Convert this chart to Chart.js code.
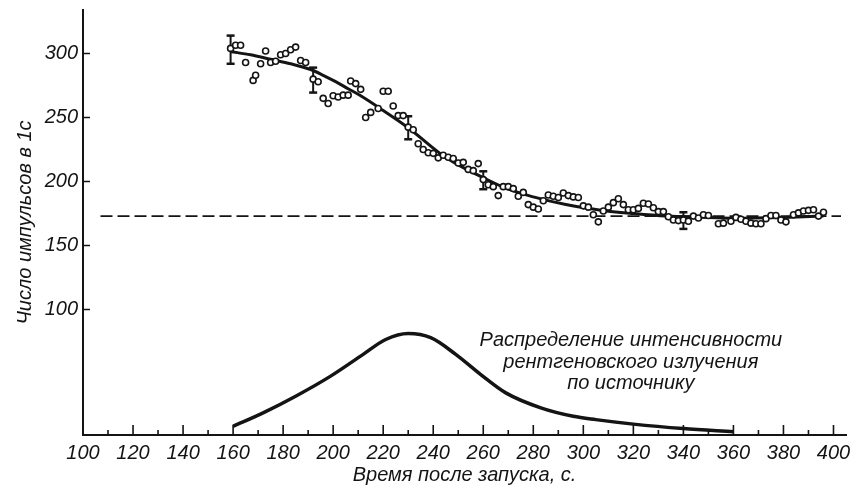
<!DOCTYPE html>
<html>
<head>
<meta charset="utf-8">
<script src="https://cdn.jsdelivr.net/npm/chart.js@4/dist/chart.umd.min.js"></script>
<style>
  html, body { margin: 0; padding: 0; background: #fff; }
  #wrap { width: 853px; height: 490px; }
</style>
</head>
<body>
<div id="wrap"><canvas id="c" width="853" height="490"></canvas></div>
<script>
// ---- Data ----
const dotTime = [159,161,163,165,168,169,171,173,175,177,179,181,183,185,187,189,192,194,196,198,200,202,204,206,207,209,211,213,215,218,220,222,224,226,228,230,232,234,236,238,240,242,244,246,248,250,252,254,256,258,260,262,264,266,268,270,272,274,276,278,280,282,284,286,288,290,292,294,296,298,300,302,304,306,308,310,312,314,316,318,320,322,324,326,328,330,332,334,336,338,340,342,344,346,348,350,354,356,359,361,363,365,367,369,371,373,375,377,379,381,384,386,388,390,392,394,396];
const dotCount = [304,306.5,306.5,293,279,283,292,302,293,294,299,300,303,305,294.5,293,280,278,265,261,267,266,267.5,267.5,278.5,276.5,272,250,254,257,270.5,270.5,259,251.5,251.5,242.5,240.5,229.5,225,222.5,222,218.5,220.5,219,218,214.5,215,209.5,208.5,214,201.5,197.5,196,189,196,196,194.5,188.5,191.5,182,180,178.5,185,189.5,188.5,187.5,191,189,188,187.5,181,180,174,168.5,177,180,183.5,186.5,182,178,178,179,183,182.5,179.5,176.5,176.5,172.5,170,169.5,170,169,173,171.5,174,173.5,167,167.5,169,172,170.5,169,167.5,167,167,171,173.5,173.5,170,168.5,174,175.5,177,177.5,178,173,176];

const fitTime  = [159,167,175,183,191,196,201,206,211,220,230,243,250,260,270,280,293,307,320,333,350,360,380,396];
const fitCount = [301.5,299,295.5,292,287.5,283,278,272.5,267,255.5,242,221.5,213,203,194,188,182,177.6,175,173,172,171.4,172,173];

const backgroundLevel = 173;
const backgroundFrom = 107;
const backgroundTo = 403;

const sourceTime  = [160,172,185,199,212,221,230,239,249,259,269,283,296,305,320,340,360];
const sourceValue = [8.8,19.3,32.3,48,65,76.6,81.2,78,65,49.2,34.9,23.2,16.6,14,10.5,7,4.5];

const errTime = [159,192,230,260,340];
const errLow  = [292,269.5,233,194,163];
const errHigh = [314,289,251,208,176];

const xTickLabels = [100,120,140,160,180,200,220,240,260,280,300,320,340,360,380,400];
const xMinorTicks = [110,130,150,170,190,210,230,250,270,290,310,330,350,370,390];
const yTickLabels = [100,150,200,250,300];

const xTitle = 'Время после запуска, с.';
const yTitle = 'Число импульсов в 1с';
const noteLines = ['Распределение интенсивности', 'рентгеновского излучения', 'по источнику'];
const noteAnchor = {x: 319, y: 75.5};

// ---- Styling ----
const INK = '#141414';
const FONT = "'Liberation Sans', Arial, sans-serif";

const datasets = [];
datasets.push({
  label: 'dots',
  data: dotTime.map((t, i) => ({x: t, y: dotCount[i]})),
  showLine: false,
  pointStyle: 'circle',
  pointRadius: 3,
  pointBorderWidth: 1.6,
  pointBackgroundColor: '#fff',
  pointBorderColor: INK
});
errTime.forEach((t, i) => {
  datasets.push({
    label: 'err' + i,
    data: [{x: t, y: errLow[i]}, {x: t, y: errHigh[i]}],
    showLine: true,
    borderColor: INK,
    borderWidth: 2,
    pointStyle: 'line',
    pointRadius: 4,
    pointBorderWidth: 2.5,
    pointBorderColor: INK
  });
});
datasets.push({
  label: 'fit',
  data: fitTime.map((t, i) => ({x: t, y: fitCount[i]})),
  showLine: true,
  borderColor: INK,
  borderWidth: 3,
  cubicInterpolationMode: 'monotone',
  pointRadius: 0
});
datasets.push({
  label: 'background',
  data: [{x: backgroundFrom, y: backgroundLevel}, {x: backgroundTo, y: backgroundLevel}],
  showLine: true,
  borderColor: INK,
  borderWidth: 1.6,
  borderDash: [12, 5],
  pointRadius: 0
});
datasets.push({
  label: 'source',
  data: sourceTime.map((t, i) => ({x: t, y: sourceValue[i]})),
  showLine: true,
  borderColor: INK,
  borderWidth: 3.5,
  cubicInterpolationMode: 'monotone',
  pointRadius: 0
});

const decorations = {
  id: 'decorations',
  afterDatasetsDraw(chart) {
    const {ctx, chartArea: a, scales: {x, y}} = chart;
    ctx.save();
    ctx.strokeStyle = INK;
    ctx.lineWidth = 1.6;
    ctx.beginPath();
    xTickLabels.forEach(v => {
      const px = x.getPixelForValue(v);
      ctx.moveTo(px, a.bottom); ctx.lineTo(px, a.bottom - 10);
    });
    xMinorTicks.forEach(v => {
      const px = x.getPixelForValue(v);
      ctx.moveTo(px, a.bottom); ctx.lineTo(px, a.bottom - 5);
    });
    yTickLabels.forEach(v => {
      const py = y.getPixelForValue(v);
      ctx.moveTo(a.left, py); ctx.lineTo(a.left + 7, py);
    });
    ctx.stroke();
    // annotation text
    ctx.fillStyle = INK;
    ctx.font = 'italic 20px ' + FONT;
    ctx.textAlign = 'center';
    ctx.textBaseline = 'middle';
    const cx = x.getPixelForValue(noteAnchor.x);
    const cy = y.getPixelForValue(noteAnchor.y);
    noteLines.forEach((s, i) => ctx.fillText(s, cx, cy + i * 21.5));
    ctx.restore();
  }
};

new Chart(document.getElementById('c'), {
  type: 'scatter',
  data: {datasets},
  options: {
    responsive: false,
    animation: false,
    events: [],
    layout: {padding: {left: 13, top: 10, right: 7, bottom: 3}},
    plugins: {legend: {display: false}, tooltip: {enabled: false}, title: {display: false}},
    scales: {
      x: {
        type: 'linear',
        min: 100, max: 405,
        afterBuildTicks: s => { s.ticks = xTickLabels.map(v => ({value: v})); },
        afterFit: s => { s.height = 52; s.paddingLeft = 0; s.paddingRight = 0; },
        grid: {display: true, drawOnChartArea: false, drawTicks: false},
        border: {display: true, color: INK, width: 2},
        ticks: {color: INK, font: {family: FONT, size: 20, style: 'italic'}, padding: 6, maxRotation: 0, autoSkip: false},
        title: {display: true, text: xTitle, color: INK, font: {family: FONT, size: 20, style: 'italic'}, padding: 0}
      },
      y: {
        type: 'linear',
        min: 2, max: 334,
        afterBuildTicks: s => { s.ticks = yTickLabels.map(v => ({value: v})); },
        afterFit: s => { s.width = 70; s.paddingTop = 0; s.paddingBottom = 0; },
        grid: {display: true, drawOnChartArea: false, drawTicks: false},
        border: {display: true, color: INK, width: 2},
        ticks: {color: INK, font: {family: FONT, size: 20, style: 'italic'}, padding: 5},
        title: {display: true, text: yTitle, color: INK, font: {family: FONT, size: 20, style: 'italic'}, padding: 0}
      }
    }
  },
  plugins: [decorations]
});
</script>
</body>
</html>
